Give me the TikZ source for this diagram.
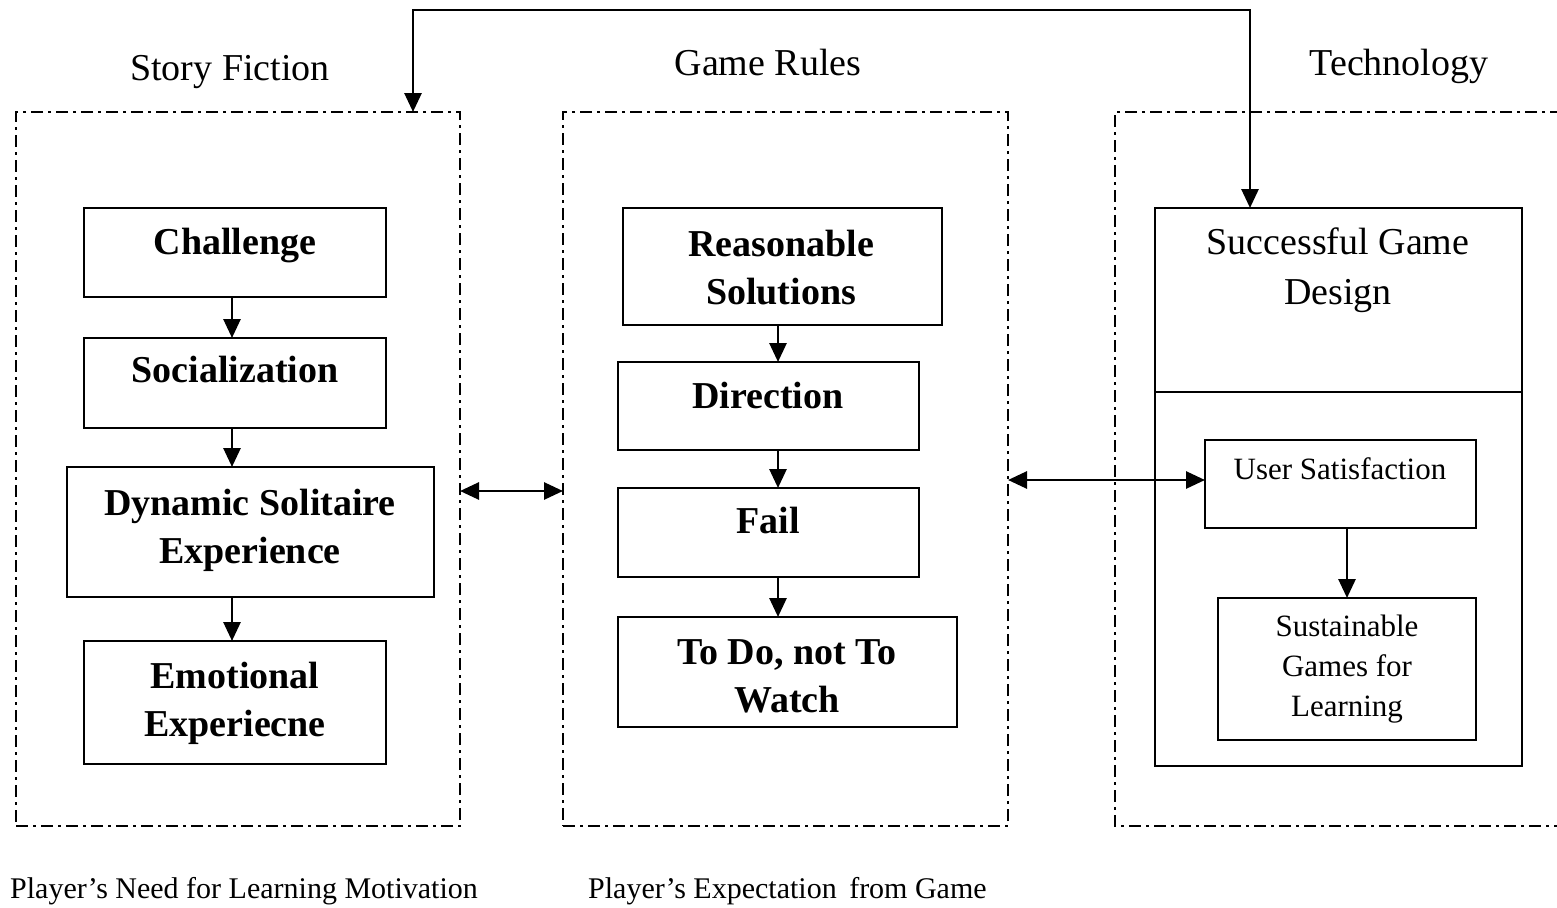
\documentclass[tikz,border=0pt]{standalone}
\usepackage{fontspec}
\setmainfont{Liberation Serif}
\usetikzlibrary{arrows.meta}
\begin{document}
\begin{tikzpicture}[x=1pt,y=-1pt,
  box/.style={draw, line width=2.8pt, inner sep=0pt, outer sep=0pt},
  dbox/.style={draw, line width=2.4pt, inner sep=0pt, outer sep=0pt, dash pattern=on 12pt off 5pt on 3pt off 5pt},
  dline/.style={line width=2.4pt, dash pattern=on 12pt off 5pt on 3pt off 5pt},
  btext/.style={font=\fontsize{38}{48}\selectfont\bfseries, align=center, inner sep=0pt},
  rtext/.style={font=\fontsize{38}{50}\selectfont, align=center, inner sep=0pt},
  stext/.style={font=\fontsize{31}{40}\selectfont, align=center, inner sep=0pt},
  ltext/.style={font=\fontsize{30}{36}\selectfont, inner sep=0pt},
  tip/.tip={Triangle[length=19pt,width=17pt]},
  arr/.style={line width=2.8pt, -tip},
  darr/.style={line width=2.8pt, tip-tip}
]
\useasboundingbox (0,0) rectangle (1557,907);

% column headings
\node[rtext, anchor=base] (hsf) at (230,81) {Story Fiction};
\node[rtext, anchor=base] (hgr) at (768,75) {Game Rules};
\node[rtext, anchor=base] (hte) at (1399,75) {Technology};

% dashed group boxes
\node[dbox, minimum width=444pt, minimum height=714pt] (L) at (238,469) {};
\node[dbox, minimum width=445pt, minimum height=714pt] (M) at (785.5,469) {};
\node[inner sep=0pt, outer sep=0pt, minimum width=447pt, minimum height=714pt] (R) at (1338.5,469) {};
\draw[dline] (R.north east) -- (R.north west) -- (R.south west) -- (R.south east);

% left column
\node[box, minimum width=302pt, minimum height=89pt] (ch) at (235,252.5) {};
\node[btext, anchor=base] (cht) at (235,254) {Challenge};
\node[box, minimum width=302pt, minimum height=90pt] (so) at (235,383) {};
\node[btext, anchor=base] (sot) at (235,382) {Socialization};
\node[box, minimum width=367pt, minimum height=130pt] (dy) at (250.5,532) {};
\node[btext] (dyt) at (250,530) {Dynamic Solitaire\\Experience};
\node[box, minimum width=302pt, minimum height=123pt] (em) at (235,702.5) {};
\node[btext] (emt) at (235,703) {Emotional\\Experiecne};

\coordinate (lcol) at (232,0);
\draw[arr] (ch.south -| lcol) -- (so.north -| lcol);
\draw[arr] (so.south -| lcol) -- (dy.north -| lcol);
\draw[arr] (dy.south -| lcol) -- (em.north -| lcol);

% middle column
\node[box, minimum width=319pt, minimum height=117pt] (rs) at (782.5,266.5) {};
\node[btext] (rst) at (781,268) {Reasonable\\Solutions};
\node[box, minimum width=301pt, minimum height=88pt] (di) at (768.5,406) {};
\node[btext, anchor=base] (dit) at (768,408) {Direction};
\node[box, minimum width=301pt, minimum height=89pt] (fa) at (768.5,532.5) {};
\node[btext, anchor=base] (fat) at (768,533) {Fail};
\node[box, minimum width=339pt, minimum height=110pt] (td) at (787.5,672) {};
\node[btext] (tdt) at (787,676) {To Do, not To\\Watch};

\coordinate (mcol) at (778,0);
\draw[arr] (rs.south -| mcol) -- (di.north -| mcol);
\draw[arr] (di.south -| mcol) -- (fa.north -| mcol);
\draw[arr] (fa.south -| mcol) -- (td.north -| mcol);

% right column
\node[box, minimum width=367pt, minimum height=558pt] (sg) at (1338.5,487) {};
\coordinate (divy) at (0,392);
\draw[line width=2.8pt] (sg.west |- divy) -- (sg.east |- divy);
\node[rtext] (sgt) at (1338,270) {Successful Game\\Design};
\node[box, minimum width=271pt, minimum height=88pt] (us) at (1340.5,484) {};
\node[stext, anchor=base] (ust) at (1340,479) {User Satisfaction};
\node[box, minimum width=258pt, minimum height=142pt] (su) at (1347,669) {};
\node[stext] (sut) at (1347,669) {Sustainable\\Games for\\Learning};
\draw[arr] (us.south -| su.north) -- (su.north);

% connectors between groups
\coordinate (ly) at (0,491);
\draw[darr] (L.east |- ly) -- (M.west |- ly);
\coordinate (ry) at (0,480);
\draw[darr] (M.east |- ry) -- (us.west |- ry);

\coordinate (topy) at (0,10);
\coordinate (ax) at (413,0);
\coordinate (bx) at (1250,0);
\draw[darr] (L.north -| ax) |- (bx |- topy) -- (bx |- sg.north);

% bottom captions
\node[ltext, anchor=base west] (c1) at (10,898) {Player’s Need for Learning Motivation};
\node[ltext, anchor=base west] (c2) at (588,898) {Player’s Expectation\, from Game};
\end{tikzpicture}
\end{document}
